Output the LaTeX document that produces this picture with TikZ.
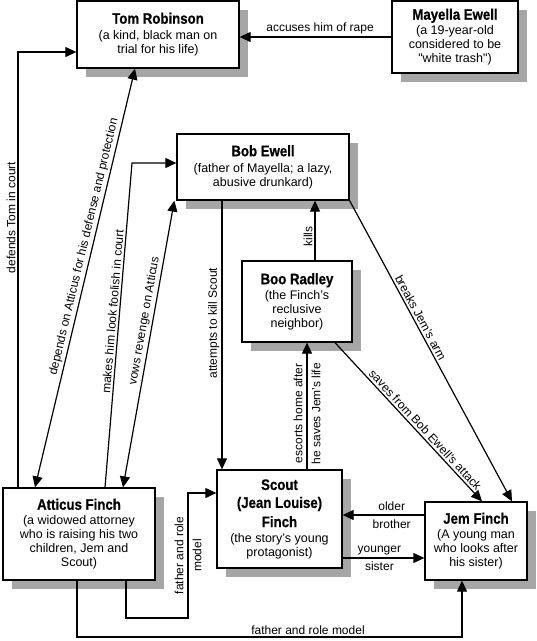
\documentclass[tikz,border=0pt]{standalone}
\usepackage{fontspec}
\setmainfont{Liberation Sans}
\newfontfamily\titlefont{Liberation Sans}[FakeStretch=0.87, BoldFeatures={FakeBold=0.6}]
\newcommand{\ttl}[1]{{\titlefont\bfseries\fontsize{15.2}{16}\selectfont #1}}
\newcommand{\dq}{{\addfontfeatures{Ligatures=TeXOff}"}}
\usetikzlibrary{arrows.meta, shadows}

\begin{document}
\begin{tikzpicture}[x=1pt, y=-1pt,
  box/.style={draw, line width=1.3pt, fill=white, align=center, inner sep=2pt,
    font=\fontsize{12.5}{14}\selectfont,
    general shadow={fill=black!35, shadow xshift=8.5pt, shadow yshift=-8.5pt}},
  lbl/.style={font=\fontsize{12}{14}\selectfont, inner sep=2pt},
  split/.style={align=center, font=\fontsize{12}{18}\selectfont, inner sep=0pt},
  arr/.style={line width=1.2pt, -{Triangle[length=11pt, width=10pt]}},
  dbl/.style={line width=1.2pt, {Triangle[length=11pt, width=10pt]}-{Triangle[length=11pt, width=10pt]}},
]
\useasboundingbox (0,0) rectangle (537,641);

\node[box, minimum width=162pt, minimum height=67pt] (tom) at (158,34.5)
  {\ttl{Tom Robinson}\\[2pt](a kind, black man on\\trial for his life)};
\node[box, minimum width=126pt, minimum height=72pt] (may) at (455,37)
  {\ttl{Mayella Ewell}\\[1pt](a 19-year-old\\considered to be\\\dq white trash\dq)};
\node[box, minimum width=172pt, minimum height=66pt] (bob) at (263,167)
  {\ttl{Bob Ewell}\\[2pt](father of Mayella; a lazy,\\abusive drunkard)};
\node[box, minimum width=110pt, minimum height=81pt] (boo) at (297,301.5)
  {\ttl{Boo Radley}\\[1pt](the Finch's\\reclusive\\neighbor)};
\node[box, minimum width=125pt, minimum height=98pt] (scout) at (279.5,519)
  {\ttl{Scout}\\[4pt]\ttl{(Jean Louise)}\\[4pt]\ttl{Finch}\\[1pt](the story's young\\protagonist)};
\node[box, minimum width=102pt, minimum height=78pt] (jem) at (476,541)
  {\ttl{Jem Finch}\\[1pt](A young man\\who looks after\\his sister)};
\node[box, minimum width=152pt, minimum height=92pt] (att) at (79,534)
  {\ttl{Atticus Finch}\\[1pt](a widowed attorney\\who is raising his two\\children, Jem and\\Scout)};

% corners of the bent connectors
\coordinate (mk) at (132,163);
\coordinate (fa) at (188,618);
\coordinate (fb) at (462,637);

\draw[arr] (may.west) -- node[lbl, pos=0.47, above]{accuses him of rape} (may.west -| tom.east);
\draw[arr] ([xshift=-61pt]att.north) |- node[lbl, pos=0.31, above, sloped]{defends Tom in court} ([yshift=-17.5pt]tom.west);
\draw[dbl] ([xshift=-44pt]att.north) -- node[lbl, pos=0.57, above, sloped]{depends on Atticus for his defense and protection} ([xshift=-23pt]tom.south);
\draw[arr] ([xshift=26pt]att.north) -- node[lbl, pos=0.54, above, sloped]{makes him look foolish in court} (mk) -- ([yshift=4pt]bob.west);
\draw[dbl] ([xshift=44pt]att.north) -- node[lbl, pos=0.575, above, sloped]{vows revenge on Atticus} ([xshift=-2pt]bob.south west);

\draw[arr] ([xshift=-41pt]bob.south) -- node[lbl, pos=0.456, rotate=90, anchor=south]{attempts to kill Scout} ([xshift=-41pt]bob.south |- scout.north);
\draw[arr] ([xshift=18pt]boo.north) -- node[lbl, pos=0.4, rotate=90, anchor=south]{kills} ([xshift=18pt]boo.north |- bob.south);
\draw[arr] ([xshift=10pt]boo.south |- scout.north) -- node[split, pos=0.44, rotate=90]{escorts home after\\he saves Jem's life} ([xshift=10pt]boo.south);
\draw[arr] (bob.south east) -- node[lbl, pos=0.4, above, sloped]{breaks Jem's arm} ([xshift=36pt]jem.north);
\draw[arr] ([xshift=38pt]boo.south) -- node[lbl, pos=0.58, above, sloped]{saves from Bob Ewell's attack} ([xshift=6pt]jem.north);

\draw[arr] ([yshift=26pt]jem.west) -- node[split, pos=0.4]{older\\brother} ([yshift=26pt]jem.west -| scout.east);
\draw[arr] ([yshift=-17pt]jem.west -| scout.east) -- node[split, pos=0.45]{younger\\sister} ([yshift=-17pt]jem.west);

\draw[arr] ([xshift=47pt]att.south) |- (fa) |- node[split, pos=0.25, rotate=90]{father and role\\model} ([yshift=26pt]scout.west);
\draw[arr] ([xshift=-2pt]att.south) |- node[lbl, pos=0.8, above]{father and role model} (fb) -- (fb |- jem.south);

\end{tikzpicture}
\end{document}
